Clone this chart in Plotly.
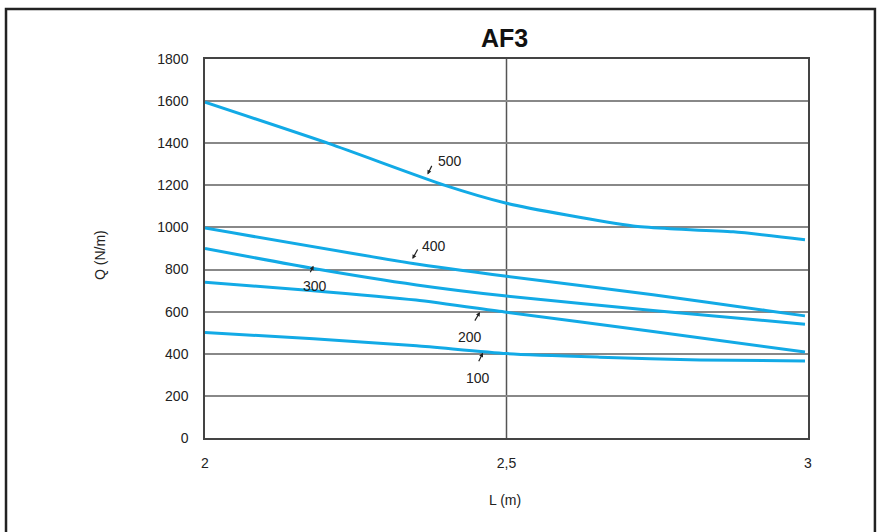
import plotly.graph_objects as go

# ---- data ----
L_100 = [2.0, 2.18, 2.351, 2.5, 2.655, 2.821, 2.995]
Q_100 = [501, 471, 438, 401, 384, 371, 366]

L_200 = [2.0, 2.17, 2.35, 2.5, 2.743, 2.995]
Q_200 = [740, 702, 655, 597, 506, 408]

L_300 = [2.0, 2.18, 2.351, 2.5, 2.743, 2.995]
Q_300 = [900, 805, 727, 674, 606, 540]

L_400 = [2.0, 2.345, 2.5, 2.743, 2.93, 2.995]
Q_400 = [997, 829, 768, 680, 606, 580]

L_500 = [2.0, 2.207, 2.398, 2.5, 2.60, 2.71, 2.766, 2.876, 2.995]
Q_500 = [1595, 1397, 1200, 1115, 1059, 1007, 995, 979, 942]

series_names = ["100", "200", "300", "400", "500"]

x_tickvals = [2, 2.5, 3]
x_ticktext = ["2", "2,5", "3"]
y_tickvals = [0, 200, 400, 600, 800, 1000, 1200, 1400, 1600, 1800]

# label placement (text centre, arrow head on curve, arrow tail offset in px)
labels = [
    # text, text_x, text_y, head_x, head_y, ax, ay
    ("500", 2.406, 1316, 2.369, 1252, 5, -10),
    ("400", 2.379, 913, 2.344, 850, 6, -11),
    ("300", 2.183, 723, 2.180, 818, -4, 8),
    ("200", 2.439, 481, 2.456, 598, -6, 10),
    ("100", 2.452, 287, 2.461, 405, -5, 10),
]

LINE_COLOR = "#12aae6"
FONT = "Liberation Sans, Arial, sans-serif"

fig = go.Figure()
for name, xs, ys in zip(series_names,
                        [L_100, L_200, L_300, L_400, L_500],
                        [Q_100, Q_200, Q_300, Q_400, Q_500]):
    fig.add_trace(go.Scatter(x=xs, y=ys, mode="lines", name=name,
                             line=dict(color=LINE_COLOR, width=3,
                                       shape="spline", smoothing=0.6),
                             showlegend=False, hoverinfo="skip"))

annotations = []
for text, tx, ty, hx, hy, ax, ay in labels:
    annotations.append(dict(x=tx, y=ty, xref="x", yref="y", text=text,
                            showarrow=False, xanchor="center", yanchor="middle",
                            font=dict(family=FONT, size=14, color="#222")))
    annotations.append(dict(x=hx, y=hy, xref="x", yref="y", text="",
                            showarrow=True, ax=ax, ay=ay,
                            arrowhead=2, arrowsize=0.7, arrowwidth=1.2,
                            arrowcolor="#222", standoff=0, startstandoff=0))

# axis titles
annotations.append(dict(x=-0.174, y=0.483, xref="paper", yref="paper",
                        text="Q (N/m)", textangle=-90, showarrow=False,
                        xanchor="center", yanchor="middle",
                        font=dict(family=FONT, size=14, color="#222")))
annotations.append(dict(x=0.498, y=-0.1636, xref="paper", yref="paper",
                        text="L (m)", showarrow=False,
                        xanchor="center", yanchor="middle",
                        font=dict(family=FONT, size=14, color="#222")))
# title
annotations.append(dict(x=0.4975, y=1.055, xref="paper", yref="paper",
                        text="<b>AF3</b>", showarrow=False,
                        xanchor="center", yanchor="middle",
                        font=dict(family="Liberation Sans, Arial, sans-serif",
                                  size=25, color="#111")))

shapes = [
    # vertical line at 2.5
    dict(type="line", xref="x", yref="paper", x0=2.5, x1=2.5, y0=0, y1=1,
         line=dict(color="#555", width=1.5), layer="below"),
    # outer frame
    dict(type="rect", xref="paper", yref="paper",
         x0=-0.330, x1=1.111, y0=-0.3, y1=1.132,
         line=dict(color="#222", width=2.5)),
]

fig.update_layout(
    width=877, height=532,
    margin=dict(l=205, r=69, t=59, b=94),
    paper_bgcolor="white", plot_bgcolor="white",
    annotations=annotations, shapes=shapes,
    font=dict(family=FONT, size=14, color="#222"),
)
fig.update_xaxes(range=[2, 3], tickvals=x_tickvals, ticktext=x_ticktext,
                 showgrid=False, zeroline=False,
                 showline=True, mirror=True, linecolor="#444", linewidth=1.5,
                 ticks="", ticklabelstandoff=11,
                 tickfont=dict(family=FONT, size=14, color="#222"))
fig.update_yaxes(range=[0, 1800], tickvals=y_tickvals,
                 showgrid=True, gridcolor="#888", gridwidth=1.5,
                 zeroline=False,
                 showline=True, mirror=True, linecolor="#444", linewidth=1.5,
                 ticks="", ticklabelstandoff=12,
                 tickfont=dict(family=FONT, size=14, color="#222"))

fig.write_html("out.html",
               config={"displayModeBar": False},
               post_script="document.body.style.margin='0';document.body.style.overflow='hidden';")
